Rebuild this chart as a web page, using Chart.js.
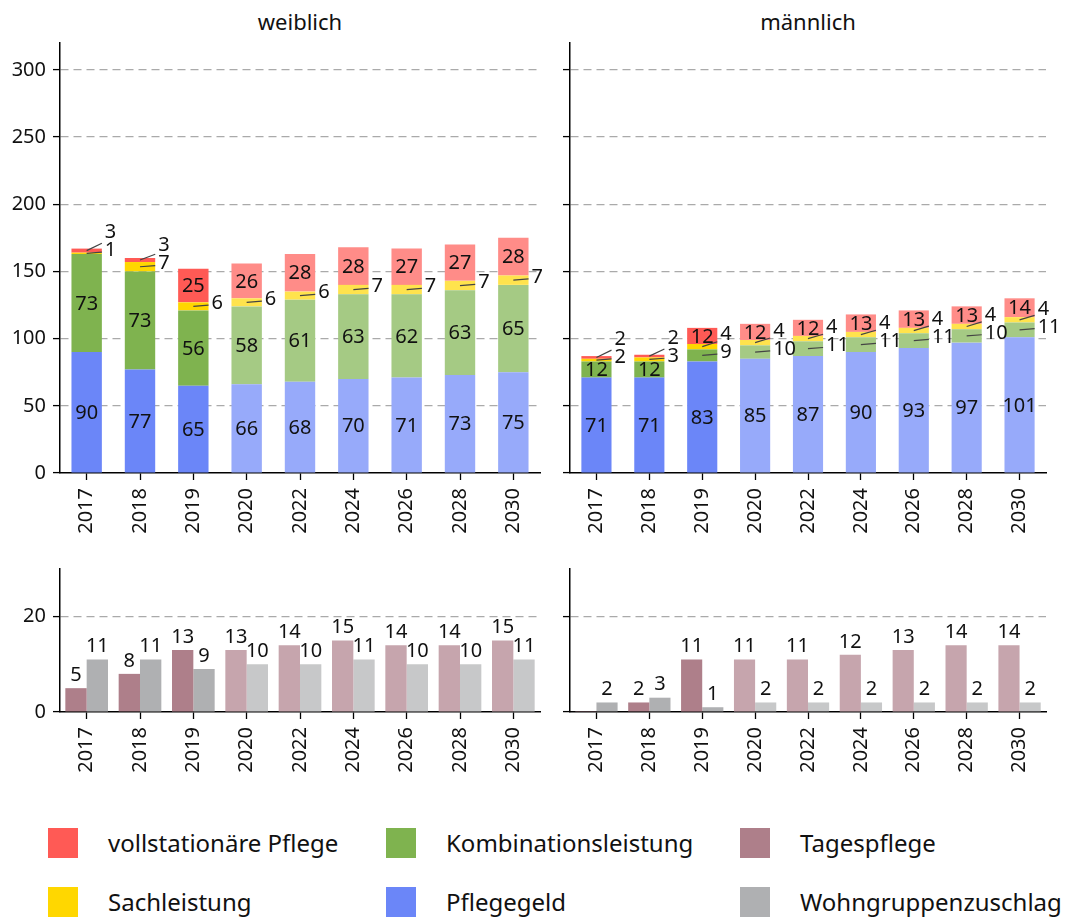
<!DOCTYPE html>
<html>
<head>
<meta charset="utf-8">
<script src="https://cdn.jsdelivr.net/npm/chart.js@4"></script>
<style>
  body { margin: 0; background: #fff; font-family: "Noto Sans", sans-serif; }
  #page { position: relative; width: 1066px; height: 918px; }
  .box { position: absolute; }
  .title { position: absolute; font-size: 22px; color: #111; transform: translateX(-50%); top: 6px; }
  .legend { position: absolute; display: flex; align-items: center; font-size: 24px; color: #111; white-space: nowrap; }
  .legend span.sw { width: 30px; height: 30px; margin-right: 30px; display: inline-block; }
</style>
</head>
<body>
<div id="page">
  <div class="title" style="left:300px">weiblich</div>
  <div class="title" style="left:808px">männlich</div>
  <div class="box" style="left:0;top:0;width:560px;height:550px"><canvas id="topW"></canvas></div>
  <div class="box" style="left:560px;top:0;width:506px;height:550px"><canvas id="topM"></canvas></div>
  <div class="box" style="left:0;top:550px;width:560px;height:250px"><canvas id="botW"></canvas></div>
  <div class="box" style="left:560px;top:550px;width:506px;height:250px"><canvas id="botM"></canvas></div>
  <div id="legend"></div>
</div>
<script>
// Kategorien
const years = ["2017", "2018", "2019", "2020", "2022", "2024", "2026", "2028", "2030"];
const firstProjection = 3; // ab 2020 Prognose (hellere Farben)

// weiblich
const wPflegegeld = [90, 77, 65, 66, 68, 70, 71, 73, 75];
const wKombination = [73, 73, 56, 58, 61, 63, 62, 63, 65];
const wSachleistung = [1, 7, 6, 6, 6, 7, 7, 7, 7];
const wVollstationaer = [3, 3, 25, 26, 28, 28, 27, 27, 28];
const wTagespflege = [5, 8, 13, 13, 14, 15, 14, 14, 15];
const wWohngruppe = [11, 11, 9, 10, 10, 11, 10, 10, 11];

// männlich
const mPflegegeld = [71, 71, 83, 85, 87, 90, 93, 97, 101];
const mKombination = [12, 12, 9, 10, 11, 11, 11, 10, 11];
const mSachleistung = [2, 3, 4, 4, 4, 4, 4, 4, 4];
const mVollstationaer = [2, 2, 12, 12, 12, 13, 13, 13, 14];
const mTagespflege = [0.2, 2, 11, 11, 11, 12, 13, 14, 14];
const mWohngruppe = [2, 3, 1, 2, 2, 2, 2, 2, 2];

const topTicks = [0, 50, 100, 150, 200, 250, 300];
const bottomTicks = [0, 20];

// Farben: [Ist, Prognose]
const colors = {
  vollstationaer: ["#FF5A55", "#FF8C88"],
  sachleistung: ["#FFD700", "#FFE34D"],
  kombination: ["#7FB34F", "#A5CA84"],
  pflegegeld: ["#6B86F8", "#97AAFA"],
  tagespflege: ["#AE7F8A", "#C6A5AD"],
  wohngruppe: ["#AFB0B2", "#C7C8C9"],
};

const FONT = '"Noto Sans", sans-serif';

function barColors(pair) {
  return years.map((y, i) => (i < firstProjection ? pair[0] : pair[1]));
}

// ✅ Zahlen in / neben gestapelten Balken
const stackLabels = {
  id: "stackLabels",
  afterDatasetsDraw(chart) {
    const ctx = chart.ctx;
    ctx.save();
    ctx.font = "20px " + FONT;
    ctx.fillStyle = "#111";
    chart.data.labels.forEach((lab, i) => {
      let prevY = Infinity;
      chart.data.datasets.forEach((ds, d) => {
        const bar = chart.getDatasetMeta(d).data[i];
        const v = ds.data[i];
        const h = bar.base - bar.y;
        const midY = (bar.y + bar.base) / 2;
        if (h >= 15) {
          ctx.textAlign = "center";
          ctx.textBaseline = "middle";
          ctx.fillText(v, bar.x, midY + 1);
        } else {
          const ly = Math.min(midY - 3, prevY - 18);
          prevY = ly;
          const right = bar.x + bar.width / 2;
          ctx.strokeStyle = "#444";
          ctx.lineWidth = 1.2;
          ctx.beginPath();
          ctx.moveTo(bar.x, midY);
          ctx.lineTo(right, midY + (ly - midY) * 0.4);
          ctx.stroke();
          ctx.textAlign = "left";
          ctx.textBaseline = "middle";
          ctx.fillText(v, right + 3, ly);
        }
      });
    });
    ctx.restore();
  },
};

// ✅ Zahlen über gruppierten Balken
const topLabels = {
  id: "topLabels",
  afterDatasetsDraw(chart) {
    const ctx = chart.ctx;
    ctx.save();
    ctx.font = "20px " + FONT;
    ctx.fillStyle = "#111";
    ctx.textAlign = "center";
    ctx.textBaseline = "bottom";
    chart.data.datasets.forEach((ds, d) => {
      chart.getDatasetMeta(d).data.forEach((bar, i) => {
        const v = ds.data[i];
        if (v < 0.5) return;
        ctx.fillText(Math.round(v), bar.x, bar.y - 3);
      });
    });
    ctx.restore();
  },
};

function makeOptions(opts) {
  return {
    responsive: true,
    maintainAspectRatio: false,
    animation: false,
    layout: { padding: { top: opts.padTop, right: 20, left: 0, bottom: 0 } },
    plugins: { legend: { display: false }, tooltip: { enabled: false } },
    scales: {
      x: {
        stacked: opts.stacked,
        afterFit: (s) => { s.height = opts.xHeight; },
        grid: { drawOnChartArea: false, offset: false, tickLength: 7, tickColor: "#000", tickWidth: 1.3 },
        border: { color: "#000", width: 1.5 },
        ticks: { minRotation: 90, maxRotation: 90, color: "#111", font: { family: FONT, size: 20 }, padding: 8 },
      },
      y: {
        stacked: opts.stacked,
        min: 0,
        max: opts.max,
        afterFit: (s) => { s.width = opts.yWidth; },
        afterBuildTicks: (s) => { s.ticks = opts.ticks.map((v) => ({ value: v })); },
        grid: {
          color: (c) => (c.tick && c.tick.value === 0 ? "rgba(0,0,0,0)" : "#aaaaaa"),
          lineWidth: 1.2,
          tickLength: 7,
          tickColor: "#000",
          tickWidth: 1.3,
          tickBorderDash: [],
        },
        border: { color: "#000", width: 1.5, dash: [8, 5] },
        ticks: {
          color: "#111",
          font: { family: FONT, size: 20 },
          padding: 7,
          callback: (v) => (opts.showY ? v : ""),
        },
      },
    },
  };
}

function stackedChart(id, pg, kb, sl, vs, showY) {
  new Chart(document.getElementById(id), {
    type: "bar",
    data: {
      labels: years,
      datasets: [
        { label: "Pflegegeld", data: pg, backgroundColor: barColors(colors.pflegegeld) },
        { label: "Kombinationsleistung", data: kb, backgroundColor: barColors(colors.kombination) },
        { label: "Sachleistung", data: sl, backgroundColor: barColors(colors.sachleistung) },
        { label: "vollstationäre Pflege", data: vs, backgroundColor: barColors(colors.vollstationaer) },
      ].map((ds) => Object.assign(ds, { barPercentage: 0.57, categoryPercentage: 1 })),
    },
    options: makeOptions({ stacked: true, max: 320, ticks: topTicks, padTop: 43, xHeight: 77, yWidth: showY ? 60 : 10, showY }),
    plugins: [stackLabels],
  });
}

function groupedChart(id, tp, wg, showY) {
  new Chart(document.getElementById(id), {
    type: "bar",
    data: {
      labels: years,
      datasets: [
        { label: "Tagespflege", data: tp, backgroundColor: barColors(colors.tagespflege) },
        { label: "Wohngruppenzuschlag", data: wg, backgroundColor: barColors(colors.wohngruppe) },
      ].map((ds) => Object.assign(ds, { barPercentage: 1, categoryPercentage: 0.8 })),
    },
    options: makeOptions({ stacked: false, max: 30, ticks: bottomTicks, padTop: 19, xHeight: 88, yWidth: showY ? 60 : 10, showY }),
    plugins: [topLabels],
  });
}

stackedChart("topW", wPflegegeld, wKombination, wSachleistung, wVollstationaer, true);
stackedChart("topM", mPflegegeld, mKombination, mSachleistung, mVollstationaer, false);
groupedChart("botW", wTagespflege, wWohngruppe, true);
groupedChart("botM", mTagespflege, mWohngruppe, false);

// ✅ Legende
const legendItems = [
  ["vollstationäre Pflege", colors.vollstationaer[0], 48, 826],
  ["Kombinationsleistung", colors.kombination[0], 386, 826],
  ["Tagespflege", colors.tagespflege[0], 740, 826],
  ["Sachleistung", colors.sachleistung[0], 48, 885],
  ["Pflegegeld", colors.pflegegeld[0], 386, 885],
  ["Wohngruppenzuschlag", colors.wohngruppe[0], 740, 885],
];
const legend = document.getElementById("legend");
legendItems.forEach(([text, color, x, y]) => {
  const item = document.createElement("div");
  item.className = "legend";
  item.style.left = x + "px";
  item.style.top = y + "px";
  item.innerHTML = `<span class="sw" style="background:${color}"></span><span>${text}</span>`;
  legend.appendChild(item);
});
</script>
</body>
</html>
